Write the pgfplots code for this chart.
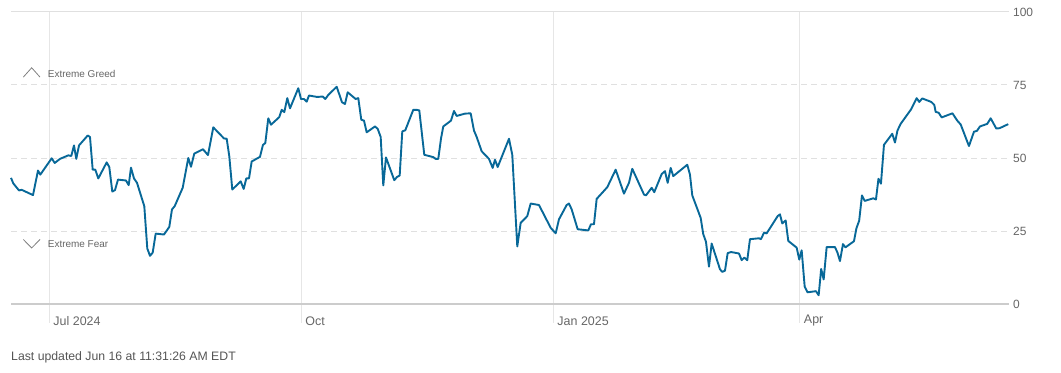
\documentclass[border=0pt]{standalone}
\usepackage{pgfplots}
\pgfplotsset{compat=1.18}
\usepackage{fontspec}
\setmainfont{Liberation Sans}
\definecolor{fg}{RGB}{8,104,152}
\definecolor{vgrid}{HTML}{E6E6E6}
\definecolor{hgrid}{HTML}{E0E0E0}
\definecolor{axisc}{HTML}{CCCCCC}
\definecolor{tickc}{HTML}{666666}
\definecolor{footc}{HTML}{555555}
\definecolor{chevc}{HTML}{808080}
\begin{document}
\begin{tikzpicture}[x=1bp,y=1bp]
\useasboundingbox (-11,-68) rectangle (1050,304);
\begin{axis}[at={(0,0)}, anchor=south west, scale only axis,
  width=998bp, height=292bp,
  xmin=11, xmax=1009, ymin=0, ymax=100,
  axis line style={draw=none},
  xtick={49.3,301.3,553.3,799.8},
  xticklabels={Jul 2024, Oct, Jan 2025, Apr},
  ytick={0,25,50,75,100},
  xtick pos=bottom, ytick pos=right,
  major tick length=0pt,
  xtick style={draw=none}, ytick style={draw=none},
  xmajorgrids, major x grid style={draw=vgrid, line width=1.2bp},
  ymajorgrids, major y grid style={draw=hgrid, dash pattern=on 6bp off 4bp, line width=1bp},
  xticklabel style={anchor=west, inner sep=0pt, xshift=4bp, yshift=-17bp, font=\fontsize{12.5}{14}\selectfont, text=tickc},
  yticklabel style={anchor=west, inner sep=0pt, xshift=4bp, font=\fontsize{12}{14}\selectfont, text=tickc},
  /pgf/number format/assume math mode=true,
  clip=false]
\draw[hgrid, line width=1bp] (axis cs:11,100) -- (axis cs:1009,100);
\draw[vgrid, line width=1.2bp] (axis cs:49.3,0) -- ([yshift=-19bp]axis cs:49.3,0);
\draw[vgrid, line width=1.2bp] (axis cs:301.3,0) -- ([yshift=-19bp]axis cs:301.3,0);
\draw[vgrid, line width=1.2bp] (axis cs:553.3,0) -- ([yshift=-19bp]axis cs:553.3,0);
\draw[vgrid, line width=1.2bp] (axis cs:799.8,0) -- ([yshift=-19bp]axis cs:799.8,0);
\draw[chevc, line width=0.8bp] (axis cs:23.3,77.7) -- (axis cs:31.7,80.9) -- (axis cs:40,77.7);
\node[anchor=west, inner sep=0pt, font=\fontsize{10}{12}\selectfont, text=tickc] at (axis cs:47.7,78.8) {Extreme Greed};
\draw[chevc, line width=0.8bp] (axis cs:23.3,22.1) -- (axis cs:31.7,19.2) -- (axis cs:40,22.1);
\node[anchor=west, inner sep=0pt, font=\fontsize{10}{12}\selectfont, text=tickc] at (axis cs:47.7,20.4) {Extreme Fear};
\addplot[fg, line width=1.9bp, line join=round, mark=none] coordinates {
(11,43.2) (13.3,41.3) (19,38.9) (21.7,39.1) (33,37.3) (38,45.7) (40.3,44.3) (51.7,49.9) (54.7,48.3) (60,49.7)
(68.3,50.9) (71.3,50.7) (74,54.3) (76.3,49.7) (79,54.3) (87.7,57.7) (90,57.2) (92.7,46.0) (95.3,46.0) (98.3,43.0)
(106.7,48.5) (109.3,46.9) (112.3,38.5) (115,39.0) (118,42.6) (126,42.3) (128.7,40.7) (131,46.7) (134,43.0) (137,41.5)
(144.3,33.5) (147.3,19.0) (150,16.5) (152.7,17.6) (155.7,24.1) (164,23.8) (169.3,26.4) (172,32.4) (174.7,33.5) (182.7,39.8)
(188.3,50.0) (191,47.0) (194.3,51.5) (203,53.0) (208,51.0) (213.3,60.5) (224,56.7) (226.7,56.6) (229.3,50.6) (232.3,39.2)
(240.7,42.0) (243.7,39.4) (246.3,43.0) (249,43.0) (251.7,48.8) (260,50.4) (263,54.5) (265.3,55.1) (268.3,63.6) (271,61.4)
(279.3,64.0) (281.7,66.5) (284.3,65.7) (287.3,70.5) (290,67.0) (298.3,73.9) (301,70.2) (304,70.2) (306.7,69.3) (309,71.4)
(317.3,70.9) (320.7,71.0) (323,71.0) (325.3,70.2) (328.3,71.6) (336.7,74.4) (339.3,71.8) (342,69.1) (345,68.5) (347.7,72.5)
(355.7,70.2) (358.3,70.5) (361.3,63.1) (364,62.8) (366.7,58.8) (375,60.8) (377.7,60.0) (380.7,57.2) (383.3,40.6) (386,50.2)
(394.3,42.4) (397,43.5) (399.7,44.0) (402.3,59.1) (405.3,59.5) (413.3,66.5) (416.7,66.5) (419.3,66.3) (424.3,51.1) (433.3,50.3)
(435.7,49.7) (438.3,49.7) (441,56.6) (443.3,60.8) (451,62.8) (454,66.1) (456.7,64.4) (465,65.2) (470.7,65.3) (474,59.4)
(476.7,57.2) (481.7,52.3) (489,49.7) (492.7,46.6) (495,49.4) (497.7,46.9) (509,56.6) (512.3,51.1) (517.3,19.7) (520.7,27.8)
(527.3,30.1) (530.7,34.4) (539,33.9) (550.7,26.1) (555.7,24.2) (559,29.0) (566.7,33.9) (569,34.4) (571.7,32.4) (577.7,25.6)
(588.3,25.2) (591,27.3) (594,27.3) (596.7,36.0) (607.3,40.0) (615.7,46.0) (624,37.8) (629,41.5) (632.3,46.3) (644,37.5)
(646,37.2) (651.7,39.8) (654.3,38.3) (661.7,44.5) (665,45.5) (667.7,41.5) (670.7,46.6) (673.3,43.8) (687.3,47.7) (690,44.3)
(692.3,37.2) (700.7,29.5) (703.3,23.9) (706,21.3) (709,12.8) (711.7,20.7) (720,11.9) (722.3,11.0) (725,11.4) (727.7,17.4)
(731,17.8) (739,17.3) (741.7,15.0) (744.3,15.9) (747.3,15.0) (750,22.2) (759,22.5) (761,22.2) (764,24.4) (766.7,24.2)
(777.7,30.1) (780,30.7) (782.3,27.6) (785.7,28.6) (788.3,21.6) (796.7,19.3) (799.3,15.2) (801.7,18.4) (804.7,6.0) (807.5,4.0)
(816,4.4) (818.7,3.0) (821.2,12.0) (823.7,8.4) (826.7,19.5) (835,19.5) (837.5,17.6) (840,14.7) (843,20.5) (845.5,19.4)
(854,21.5) (856.5,26.0) (859.2,28.5) (862,37.2) (864.7,35.3) (873.3,36.2) (876,35.8) (878.5,42.9) (881,41.2) (884,54.5)
(892.3,58.3) (895,55.3) (897.5,59.4) (900.7,61.7) (911,66.6) (916.7,70.5) (919.3,69.2) (922.3,70.4) (931.3,69.2) (934.3,68.2)
(935.7,65.8) (938.7,65.5) (941.7,63.9) (952.5,65.3) (957.3,62.8) (960.7,61.5) (969,54.1) (974,59.0) (977,59.3) (980,60.8)
(987.3,61.7) (990.7,63.6) (996.3,60.1) (999.6,60.2) (1008.3,61.6)
};
\draw[axisc, line width=2bp] (axis cs:11,0) -- (axis cs:1009,0);
\end{axis}
\node[anchor=west, inner sep=0pt, font=\fontsize{12.3}{14}\selectfont, text=footc] at (0,-53) {Last updated Jun 16 at 11:31:26 AM EDT};
\end{tikzpicture}
\end{document}
